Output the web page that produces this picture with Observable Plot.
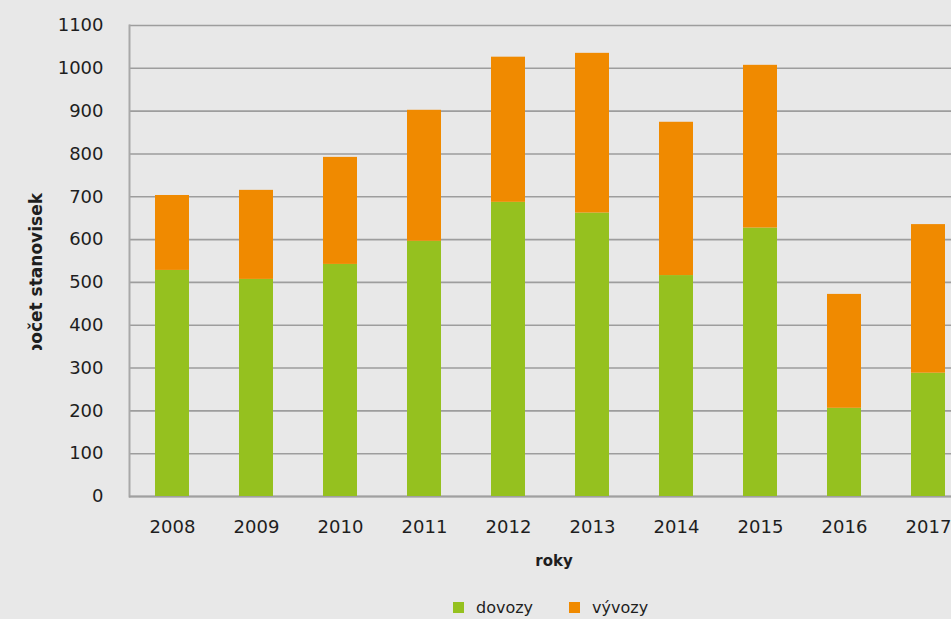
<!DOCTYPE html>
<html><head><meta charset="utf-8">
<script src="https://cdn.jsdelivr.net/npm/d3@7"></script>
<script src="https://cdn.jsdelivr.net/npm/@observablehq/plot@0.6"></script>
<style>
html,body{margin:0;padding:0;background:#e8e8e8;overflow:hidden;width:951px;height:619px;}
#wrap{position:relative;width:951px;height:619px;overflow:hidden;font-family:"DejaVu Sans",sans-serif;color:#1e1e1e;}
#chart{position:absolute;left:0;top:0;}
#chart svg{max-width:none !important;}
#ylab{position:absolute;left:0;top:150px;width:60px;height:200px;overflow:hidden;}
#ylab span{position:absolute;left:36px;top:0;white-space:nowrap;font-weight:bold;font-size:17px;transform-origin:0 0;}
#xlab{position:absolute;left:454px;width:200px;top:552px;text-align:center;font-weight:bold;font-size:15px;}
#legend{position:absolute;left:453px;top:598px;font-size:16px;display:flex;align-items:center;}
#legend .sw{display:inline-block;width:11px;height:11px;margin-right:12px;}
#legend .it{display:flex;align-items:center;margin-right:36px;}
</style></head><body>
<div id="wrap">
  <div id="chart"></div>
  <div id="ylab"><span id="ylabtext">počet stanovisek</span></div>
  <div id="xlab">roky</div>
  <div id="legend"></div>
</div>
<script>
const years = ["2008","2009","2010","2011","2012","2013","2014","2015","2016","2017"];
const dovozy = [528, 507, 542, 596, 687, 662, 516, 627, 206, 288];
const vyvozy = [175, 208, 250, 306, 339, 373, 358, 380, 266, 347];
const series = ["dovozy", "vývozy"];
const colors = ["#95c11f", "#f08a00"];
const yTicks = [0,100,200,300,400,500,600,700,800,900,1000,1100];

const data = years.flatMap((y, i) => [
  {rok: y, typ: series[0], pocet: dovozy[i]},
  {rok: y, typ: series[1], pocet: vyvozy[i]}
]);

const chart = Plot.plot({
  width: 980, height: 580,
  marginLeft: 129, marginRight: 10, marginTop: 25, marginBottom: 84,
  style: {background: "transparent", fontFamily: "DejaVu Sans", fontSize: "18px", color: "#1e1e1e", overflow: "visible", maxWidth: "none"},
  x: {domain: years, paddingInner: 0.6, paddingOuter: 0.3, label: null},
  y: {domain: [0, 1100], label: null},
  color: {domain: series, range: colors},
  marks: [
    Plot.gridY(yTicks, {stroke: "#9d9d9d", strokeOpacity: 1, strokeWidth: 1.6}),
    Plot.frame({anchor: "left", stroke: "#a8a8a8", strokeWidth: 2}),
    Plot.ruleY([0], {stroke: "#a0a0a0", strokeWidth: 2}),
    Plot.barY(data, {x: "rok", y: "pocet", fill: "typ", order: series}),
    Plot.axisY(yTicks, {tickSize: 0, tickPadding: 26, fontSize: 18, label: null, tickFormat: d => String(d)}),
    Plot.axisX({tickSize: 0, tickPadding: 24, fontSize: 18, label: null})
  ]
});
document.getElementById("chart").appendChild(chart);

// rotated y label: text end near y=193, clipped below as in the reference
const yl = document.getElementById("ylabtext");
const w = yl.getBoundingClientRect().width;
yl.style.transform = `translate(0px, ${193 - 150 + w}px) rotate(-90deg)`;
yl.style.left = "26px";

const leg = document.getElementById("legend");
series.forEach((s, i) => {
  const it = document.createElement("span");
  it.className = "it";
  it.innerHTML = `<span class="sw" style="background:${colors[i]}"></span><span>${s}</span>`;
  leg.appendChild(it);
});
</script>
</body></html>
